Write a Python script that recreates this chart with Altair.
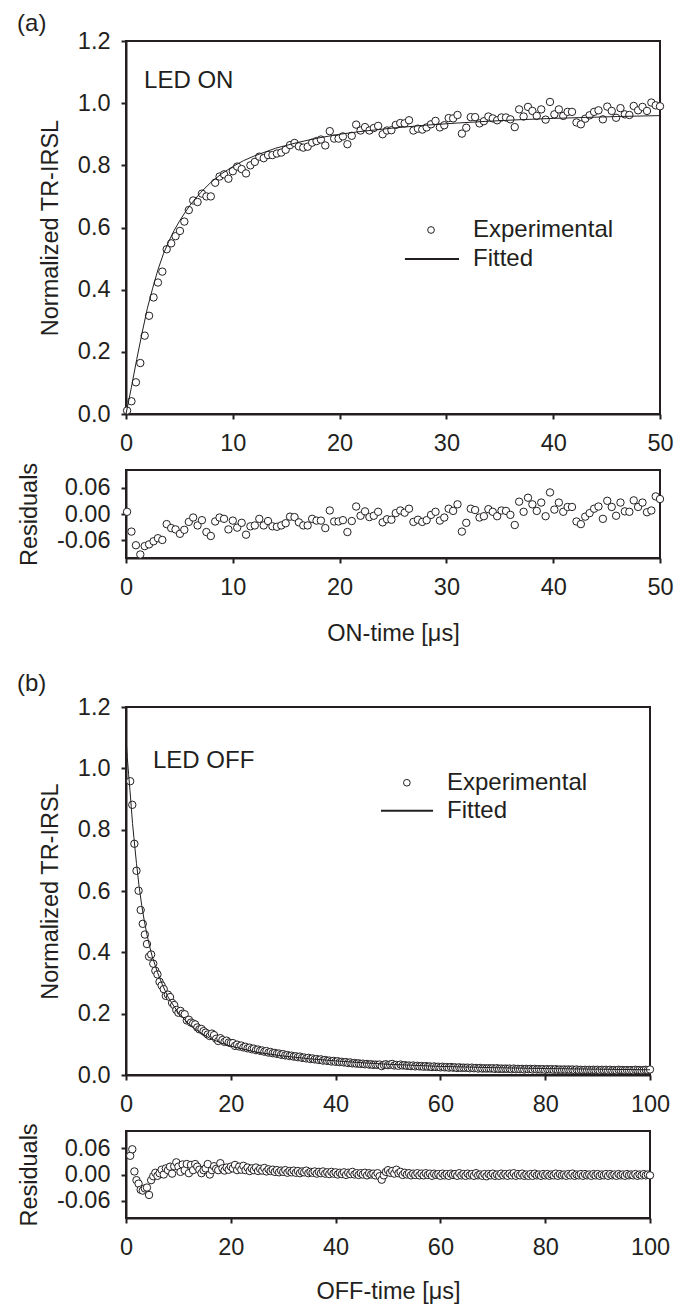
import altair as alt
import pandas as pd

FONT = "Liberation Sans"
INK = "#231f20"

# ---------------- Panel (a): LED ON ----------------
on_t = [
    0.1, 0.51, 0.93, 1.34, 1.75, 2.16, 2.58, 2.99,
    3.4, 3.81, 4.23, 4.64, 5.05, 5.46, 5.88, 6.29,
    6.7, 7.11, 7.53, 7.94, 8.35, 8.76, 9.18, 9.59,
    10.0, 10.41, 10.83, 11.24, 11.65, 12.06, 12.48, 12.89,
    13.3, 13.71, 14.13, 14.54, 14.95, 15.36, 15.78, 16.19,
    16.6, 17.01, 17.43, 17.84, 18.25, 18.66, 19.08, 19.49,
    19.9, 20.31, 20.73, 21.14, 21.55, 21.96, 22.38, 22.79,
    23.2, 23.61, 24.03, 24.44, 24.85, 25.26, 25.68, 26.09,
    26.5, 26.91, 27.33, 27.74, 28.15, 28.56, 28.98, 29.39,
    29.8, 30.21, 30.63, 31.04, 31.45, 31.86, 32.28, 32.69,
    33.1, 33.51, 33.93, 34.34, 34.75, 35.16, 35.58, 35.99,
    36.4, 36.81, 37.23, 37.64, 38.05, 38.46, 38.88, 39.29,
    39.7, 40.11, 40.53, 40.94, 41.35, 41.76, 42.18, 42.59,
    43.0, 43.41, 43.83, 44.24, 44.65, 45.06, 45.48, 45.89,
    46.3, 46.71, 47.13, 47.54, 47.95, 48.36, 48.78, 49.19,
    49.6, 50.0,
]
on_exp = [
    0.011, 0.041, 0.102, 0.164, 0.252, 0.316, 0.375, 0.423,
    0.458, 0.530, 0.549, 0.572, 0.589, 0.619, 0.656, 0.687,
    0.682, 0.709, 0.700, 0.700, 0.744, 0.764, 0.771, 0.757,
    0.781, 0.796, 0.788, 0.774, 0.800, 0.811, 0.828, 0.823,
    0.833, 0.833, 0.838, 0.841, 0.850, 0.865, 0.872, 0.861,
    0.857, 0.860, 0.873, 0.878, 0.883, 0.864, 0.910, 0.886,
    0.886, 0.893, 0.868, 0.895, 0.931, 0.912, 0.923, 0.912,
    0.920, 0.927, 0.900, 0.912, 0.913, 0.930, 0.936, 0.935,
    0.945, 0.912, 0.918, 0.915, 0.922, 0.932, 0.943, 0.922,
    0.929, 0.952, 0.951, 0.962, 0.902, 0.921, 0.955, 0.955,
    0.935, 0.942, 0.957, 0.951, 0.945, 0.954, 0.954, 0.948,
    0.923, 0.980, 0.957, 0.988, 0.975, 0.959, 0.980, 0.947,
    1.004, 0.964, 0.980, 0.959, 0.972, 0.972, 0.938, 0.932,
    0.950, 0.961, 0.972, 0.977, 0.948, 0.989, 0.975, 0.953,
    0.984, 0.964, 0.962, 0.991, 0.977, 0.988, 0.975, 1.002,
    0.993, 0.990,
]
on_res = [
    0.005, -0.04, -0.071, -0.092, -0.073, -0.069, -0.062, -0.055,
    -0.059, -0.023, -0.032, -0.035, -0.045, -0.036, -0.018, -0.008,
    -0.026, -0.014, -0.041, -0.05, -0.017, -0.008, -0.011, -0.035,
    -0.015, -0.031, -0.02, -0.047, -0.028, -0.026, -0.011, -0.026,
    -0.016, -0.028, -0.029, -0.026, -0.021, -0.006, -0.007, -0.019,
    -0.026, -0.026, -0.011, -0.015, -0.015, -0.032, 0.008, -0.017,
    -0.017, -0.014, -0.041, -0.016, 0.017, -0.004, 0.006, -0.007,
    -0.004, 0.005, -0.019, -0.012, -0.013, 0.002, 0.008, 0.003,
    0.012, -0.018, -0.013, -0.018, -0.014, -0.002, 0.005, -0.015,
    -0.008, 0.012, 0.007, 0.022, -0.04, -0.02, 0.012, 0.009,
    -0.008, -0.005, 0.011, 0.005, -0.005, 0.008, 0.007, -0.002,
    -0.025, 0.028, 0.005, 0.037, 0.022, 0.007, 0.026, -0.005,
    0.049, 0.01, 0.026, 0.005, 0.016, 0.016, -0.017, -0.023,
    -0.006, 0.002, 0.012, 0.017, -0.011, 0.03, 0.016, -0.004,
    0.026, 0.006, 0.005, 0.031, 0.016, 0.026, 0.004, 0.008,
    0.04, 0.034,
]
on_fit_t = [0, 0.5, 1, 1.5, 2, 2.5, 3, 3.5, 4, 4.5, 5, 5.5, 6, 7, 8, 9, 10,
            11, 12, 14, 16, 18, 20, 22, 25, 28, 31, 34, 37, 40, 43, 46, 50]
on_fit_v = [0.0, 0.085, 0.175, 0.26, 0.34, 0.405, 0.465, 0.515, 0.555, 0.59,
            0.62, 0.647, 0.672, 0.713, 0.747, 0.774, 0.796, 0.815, 0.83, 0.855,
            0.873, 0.888, 0.9, 0.909, 0.92, 0.929, 0.936, 0.942, 0.947, 0.951,
            0.954, 0.957, 0.96]

# ---------------- Panel (b): LED OFF ----------------
off_t = [
    0.8, 1.2, 1.6, 2.0, 2.4, 2.8, 3.2, 3.6, 4.0, 4.4,
    4.8, 5.2, 5.6, 6.0, 6.4, 6.8, 7.2, 7.6, 8.0, 8.4,
    8.8, 9.2, 9.6, 10.0, 10.4, 10.8, 11.2, 11.6, 12.0, 12.4,
    12.8, 13.2, 13.6, 14.0, 14.4, 14.8, 15.2, 15.6, 16.0, 16.4,
    16.8, 17.2, 17.6, 18.0, 18.4, 18.8, 19.2, 19.6, 20.0, 20.4,
    20.8, 21.2, 21.6, 22.0, 22.4, 22.8, 23.2, 23.6, 24.0, 24.4,
    24.8, 25.2, 25.6, 26.0, 26.4, 26.8, 27.2, 27.6, 28.0, 28.4,
    28.8, 29.2, 29.6, 30.0, 30.4, 30.8, 31.2, 31.6, 32.0, 32.4,
    32.8, 33.2, 33.6, 34.0, 34.4, 34.8, 35.2, 35.6, 36.0, 36.4,
    36.8, 37.2, 37.6, 38.0, 38.4, 38.8, 39.2, 39.6, 40.0, 40.4,
    40.8, 41.2, 41.6, 42.0, 42.4, 42.8, 43.2, 43.6, 44.0, 44.4,
    44.8, 45.2, 45.6, 46.0, 46.4, 46.8, 47.2, 47.6, 48.0, 48.4,
    48.8, 49.2, 49.6, 50.0, 50.4, 50.8, 51.2, 51.6, 52.0, 52.4,
    52.8, 53.2, 53.6, 54.0, 54.4, 54.8, 55.2, 55.6, 56.0, 56.4,
    56.8, 57.2, 57.6, 58.0, 58.4, 58.8, 59.2, 59.6, 60.0, 60.4,
    60.8, 61.2, 61.6, 62.0, 62.4, 62.8, 63.2, 63.6, 64.0, 64.4,
    64.8, 65.2, 65.6, 66.0, 66.4, 66.8, 67.2, 67.6, 68.0, 68.4,
    68.8, 69.2, 69.6, 70.0, 70.4, 70.8, 71.2, 71.6, 72.0, 72.4,
    72.8, 73.2, 73.6, 74.0, 74.4, 74.8, 75.2, 75.6, 76.0, 76.4,
    76.8, 77.2, 77.6, 78.0, 78.4, 78.8, 79.2, 79.6, 80.0, 80.4,
    80.8, 81.2, 81.6, 82.0, 82.4, 82.8, 83.2, 83.6, 84.0, 84.4,
    84.8, 85.2, 85.6, 86.0, 86.4, 86.8, 87.2, 87.6, 88.0, 88.4,
    88.8, 89.2, 89.6, 90.0, 90.4, 90.8, 91.2, 91.6, 92.0, 92.4,
    92.8, 93.2, 93.6, 94.0, 94.4, 94.8, 95.2, 95.6, 96.0, 96.4,
    96.8, 97.2, 97.6, 98.0, 98.4, 98.8, 99.2, 99.6, 100.0,
]
off_exp = [
    0.958, 0.881, 0.754, 0.666, 0.601, 0.538, 0.493, 0.458, 0.427, 0.386,
    0.393, 0.363, 0.34, 0.328, 0.304, 0.292, 0.28, 0.258, 0.262, 0.254,
    0.235, 0.228, 0.212, 0.203, 0.209, 0.2, 0.198, 0.178, 0.18, 0.171,
    0.168, 0.165, 0.155, 0.149, 0.15, 0.143, 0.138, 0.132, 0.127, 0.135,
    0.13, 0.118, 0.111, 0.12, 0.114, 0.108, 0.112, 0.106, 0.104,
    0.104, 0.095, 0.099, 0.093, 0.096, 0.09, 0.092, 0.087, 0.089, 0.084,
    0.086, 0.081, 0.083, 0.079, 0.08, 0.076, 0.078, 0.073, 0.075, 0.071,
    0.072, 0.069, 0.07, 0.066, 0.068, 0.064, 0.065, 0.062, 0.063, 0.06,
    0.061, 0.058, 0.06, 0.056, 0.057, 0.054, 0.056, 0.052, 0.054, 0.051,
    0.052, 0.049, 0.051, 0.047, 0.049, 0.046, 0.047, 0.044, 0.046, 0.043,
    0.045, 0.042, 0.043, 0.041, 0.042, 0.039, 0.041, 0.038, 0.039, 0.037,
    0.038, 0.036, 0.037, 0.035, 0.036, 0.034, 0.035, 0.033, 0.034, 0.033,
    0.034, 0.029, 0.033, 0.035, 0.032, 0.034, 0.036, 0.031, 0.033, 0.03,
    0.034, 0.031, 0.032, 0.03, 0.031, 0.029, 0.031, 0.028, 0.03, 0.028,
    0.029, 0.027, 0.029, 0.027, 0.028, 0.026, 0.028, 0.026, 0.027, 0.025,
    0.027, 0.025, 0.026, 0.024, 0.026, 0.024, 0.025, 0.023, 0.025, 0.023,
    0.024, 0.023, 0.024, 0.022, 0.024, 0.022, 0.023, 0.021, 0.023, 0.021,
    0.022, 0.021, 0.022, 0.021, 0.022, 0.02, 0.022, 0.02, 0.021, 0.02,
    0.021, 0.02, 0.021, 0.019, 0.021, 0.019, 0.02, 0.019, 0.02, 0.018,
    0.02, 0.019, 0.02, 0.018, 0.02, 0.018, 0.019, 0.018, 0.019, 0.017,
    0.019, 0.018, 0.019, 0.017, 0.019, 0.017, 0.018, 0.017, 0.018, 0.017,
    0.018, 0.017, 0.018, 0.016, 0.018, 0.016, 0.017, 0.016, 0.017, 0.016,
    0.017, 0.016, 0.017, 0.016, 0.017, 0.015, 0.017, 0.016, 0.017, 0.015,
    0.017, 0.015, 0.016, 0.015, 0.017, 0.016, 0.016, 0.015, 0.016, 0.015,
    0.016, 0.015, 0.017, 0.016, 0.016, 0.015, 0.016, 0.017, 0.016, 0.018,
]
off_res = [
    0.043, 0.058, 0.007, -0.013, -0.021, -0.035, -0.037, -0.032, -0.03, -0.047,
    -0.013, -0.004, 0.004, -0.003, 0.003, 0.011, 0.0, 0.014, 0.01, 0.018,
    0.002, 0.019, 0.028, 0.018, 0.006, 0.023, 0.01, 0.024, 0.003, 0.022,
    0.01, 0.024, 0.018, 0.011, 0.003, 0.01, 0.014, 0.024, 0.0, 0.01,
    0.019, 0.013, 0.01, 0.026, 0.014, 0.009, 0.016, 0.011, 0.018,
    0.014, 0.022, 0.01, 0.018, 0.011, 0.02, 0.01, 0.016, 0.008, 0.014,
    0.01, 0.016, 0.008, 0.013, 0.009, 0.015, 0.007, 0.012, 0.008, 0.011,
    0.006, 0.01, 0.005, 0.009, 0.006, 0.01, 0.004, 0.008, 0.005, 0.009,
    0.004, 0.008, 0.003, 0.007, 0.005, 0.009, 0.003, 0.006, 0.004, 0.007,
    0.002, 0.006, 0.003, 0.007, 0.002, 0.005, 0.001, 0.006, 0.002, 0.005,
    0.0, 0.004, 0.001, 0.005, -0.001, 0.004, 0.001, 0.006, 0.0, 0.003,
    -0.001, 0.003, 0.0, 0.004, -0.002, 0.003, 0.0, 0.002, -0.002, 0.003,
    -0.004, -0.012, -0.002, 0.006, 0.01, 0.004, 0.008, 0.002, 0.011, 0.003,
    0.006, -0.001, 0.004, 0.0, 0.003, -0.002, 0.002, -0.001, 0.003, -0.002,
    0.002, -0.002, 0.003, -0.001, 0.002, -0.003, 0.002, -0.001, 0.001, -0.003,
    0.002, -0.002, 0.001, -0.003, 0.002, -0.001, 0.001, -0.003, 0.003, -0.002,
    0.001, -0.003, 0.002, -0.002, 0.001, -0.003, 0.003, -0.002, 0.0, -0.003,
    0.001, -0.004, 0.001, -0.002, 0.002, -0.003, 0.0, -0.003, 0.002, -0.002,
    0.001, -0.003, 0.002, -0.002, 0.003, -0.003, 0.001, -0.002, 0.002, -0.003,
    0.0, -0.003, 0.001, -0.003, 0.002, -0.002, 0.0, -0.003, 0.001, -0.002,
    0.001, -0.003, 0.0, -0.002, 0.002, -0.003, 0.001, -0.002, 0.0, -0.003,
    0.001, -0.002, 0.002, -0.003, 0.0, -0.002, 0.001, -0.003, 0.001, -0.002,
    0.0, -0.003, 0.001, -0.002, 0.001, -0.003, 0.0, -0.002, 0.001, -0.003,
    0.001, -0.002, 0.0, -0.003, 0.001, -0.002, 0.0, -0.003, 0.001, -0.002,
    0.0, -0.002, 0.001, -0.003, 0.0, -0.002, 0.001, -0.002, 0.0, -0.002,
]
off_fit_t = [0, 0.25, 0.5, 0.75, 1, 1.25, 1.5, 2, 2.5, 3, 3.5, 4, 4.5, 5, 6, 7,
             8, 9, 10, 12, 14, 16, 18, 20, 25, 30, 35, 40, 45, 50, 60, 70, 80,
             90, 100]
off_fit_v = [1.1, 1.035, 0.98, 0.93, 0.875, 0.82, 0.775, 0.69, 0.615, 0.553,
             0.502, 0.458, 0.42, 0.387, 0.335, 0.292, 0.255, 0.228, 0.203,
             0.166, 0.14, 0.12, 0.105, 0.094, 0.074, 0.062, 0.053, 0.046,
             0.04, 0.035, 0.028, 0.024, 0.021, 0.019, 0.017]

LEGEND_ITEMS = ["Experimental", "Fitted"]
MAIN_TICKS = [0, 0.2, 0.4, 0.6, 0.8, 1.0, 1.2]
RES_TICKS = [-0.06, 0, 0.06]
ON_TICKS = [0, 10, 20, 30, 40, 50]
OFF_TICKS = [0, 20, 40, 60, 80, 100]

# annotation texts and legend keys, placed through the data scales
on_ann_t = [1.69, -10.2]
on_ann_v = [1.071, 1.255]
on_ann_text = ["LED ON", "(a)"]
on_key_t, on_key_v = 28.56, 0.592          # circle key
on_key_line = (26.12, 31.18, 0.499)        # line key: t1, t2, v
on_key_label_t = 32.49
off_ann_t = [5.15, -20.8]
off_ann_v = [1.025, 1.275]
off_ann_text = ["LED OFF", "(b)"]
off_key_t, off_key_v = 53.6, 0.953
off_key_line = (48.66, 58.6, 0.862)
off_key_label_t = 61.26

W_A, W_B = 534, 524
H_A, H_RA, H_B, H_RB = 373, 88, 368, 87

RES_LABEL = "datum.value < 0 ? '-' + format(-datum.value, '.2f') : format(datum.value, '.2f')"


def main_panel(t, v, fit_t, fit_v, ann_t, ann_v, ann_text, key_t, key_v,
               key_line, key_label_t, xmax, xticks, width, height):
    df = pd.DataFrame({"t": t, "v": v})
    fit = pd.DataFrame({"t": fit_t, "v": fit_v})
    ann = pd.DataFrame({"t": ann_t, "v": ann_v, "label": ann_text})
    key_pt = pd.DataFrame({"t": [key_t], "v": [key_v]})
    key_ln = pd.DataFrame({"t": [key_line[0]], "t2": [key_line[1]],
                           "v": [key_line[2]]})
    key_lb = pd.DataFrame({"t": [key_label_t, key_label_t],
                           "v": [key_v, key_line[2]], "label": LEGEND_ITEMS})
    x = alt.X("t:Q", scale=alt.Scale(domain=[0, xmax], nice=False, zero=False),
              axis=alt.Axis(values=xticks, title=None, labelFlush=False,
                            labelOverlap=False, labelPadding=12))
    y = alt.Y("v:Q", scale=alt.Scale(domain=[0, 1.2], nice=False),
              axis=alt.Axis(values=MAIN_TICKS, format=".1f",
                            title="Normalized TR-IRSL", titleX=-76,
                            titleBaseline="middle", labelOverlap=False,
                            labelFlush=False, labelPadding=11))
    pts = alt.Chart(df).mark_point(filled=True, fill="white", stroke=INK,
                                   strokeWidth=1, size=55, opacity=1).encode(
        x=x, y=y)
    line = alt.Chart(fit).mark_line(color=INK, strokeWidth=1).encode(
        x="t:Q", y="v:Q")
    txt = alt.Chart(ann).mark_text(align="left", baseline="middle", font=FONT,
                                   fontSize=24, color=INK).encode(
        x="t:Q", y="v:Q", text="label:N")
    kpt = alt.Chart(key_pt).mark_point(filled=True, fill="white", stroke=INK,
                                       strokeWidth=1, size=45,
                                       opacity=1).encode(x="t:Q", y="v:Q")
    kln = alt.Chart(key_ln).mark_rule(color=INK, strokeWidth=2).encode(
        x="t:Q", x2="t2:Q", y="v:Q")
    klb = alt.Chart(key_lb).mark_text(align="left", baseline="middle",
                                      font=FONT, fontSize=24,
                                      color=INK).encode(
        x="t:Q", y="v:Q", text="label:N")
    return alt.layer(pts, line, txt, kpt, kln, klb).properties(
        width=width, height=height)


def resid_panel(t, r, xmax, xticks, xtitle, title_y, width, height):
    df = pd.DataFrame({"t": t, "r": r})
    return alt.Chart(df).mark_point(filled=True, fill="white", stroke=INK,
                                    strokeWidth=1, size=55, opacity=1).encode(
        x=alt.X("t:Q", scale=alt.Scale(domain=[0, xmax], nice=False, zero=False),
                axis=alt.Axis(values=xticks, title=xtitle, labelFlush=False,
                              labelOverlap=False, labelPadding=12,
                              titleY=title_y, titleBaseline="middle")),
        y=alt.Y("r:Q", scale=alt.Scale(domain=[-0.1, 0.1], nice=False),
                axis=alt.Axis(values=RES_TICKS, labelExpr=RES_LABEL,
                              title="Residuals", titleX=-97,
                              titleBaseline="middle", labelOverlap=False,
                              labelFlush=False, labelPadding=11)),
    ).properties(width=width, height=height)


a_main = main_panel(on_t, on_exp, on_fit_t, on_fit_v, on_ann_t, on_ann_v,
                    on_ann_text, on_key_t, on_key_v, on_key_line,
                    on_key_label_t, 50, ON_TICKS, W_A, H_A)
a_res = resid_panel(on_t, on_res, 50, ON_TICKS, "ON-time [μs]", 75, W_A, H_RA)
b_main = main_panel(off_t, off_exp, off_fit_t, off_fit_v, off_ann_t, off_ann_v,
                    off_ann_text, off_key_t, off_key_v, off_key_line,
                    off_key_label_t, 100, OFF_TICKS, W_B, H_B)
b_res = resid_panel(off_t, off_res, 100, OFF_TICKS, "OFF-time [μs]", 73,
                    W_B, H_RB)

spacer = alt.Chart(pd.DataFrame({"t": [0], "v": [0]})).mark_point(
    opacity=0).encode(
    x=alt.X("t:Q", axis=None), y=alt.Y("v:Q", axis=None)
).properties(width=W_A, height=37, view=alt.ViewBackground(strokeOpacity=0))

chart = alt.vconcat(a_main, a_res, spacer, b_main, b_res, spacing=56,
                    bounds="flush").resolve_scale(
    x="independent", y="independent"
).properties(
    padding={"left": 7, "top": 2, "right": 5, "bottom": 2},
    background="white",
).configure_view(
    stroke=INK, strokeWidth=2
).configure_axis(
    labelFont=FONT, labelFontSize=23.5, labelColor=INK,
    titleFont=FONT, titleFontSize=23.5, titleFontWeight="normal",
    titleColor=INK, domainColor=INK, domainWidth=2, tickColor=INK,
    tickWidth=2, tickSize=5, grid=False,
)

chart.save("out.html", embed_options={"renderer": "svg", "actions": False})
